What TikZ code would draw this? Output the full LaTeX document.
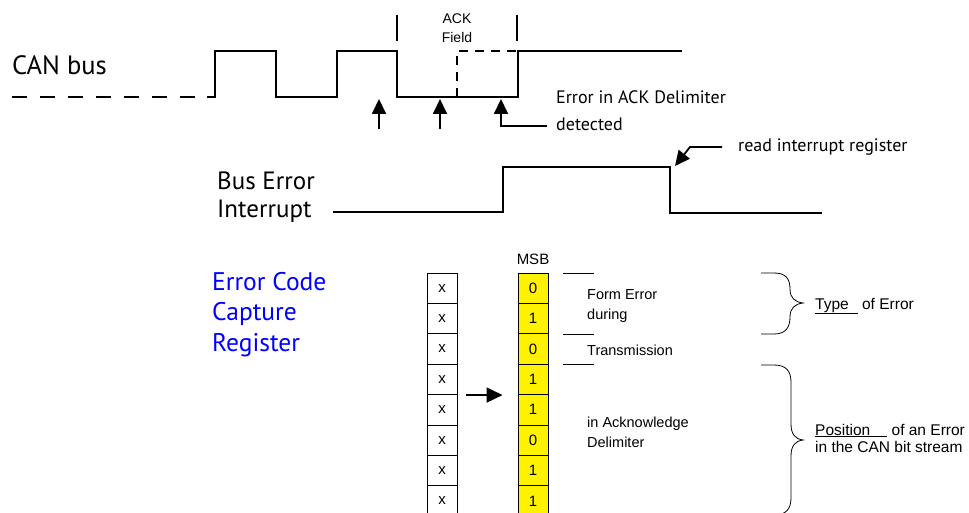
\documentclass[tikz,border=0pt]{standalone}
\usepackage{fontspec}
\setmainfont{Liberation Sans}
\newfontfamily\humfont{PT Sans}
\usepackage{xcolor}
\usetikzlibrary{arrows.meta}

\tikzset{
  sig/.style={line width=1.8pt},
  tickmark/.style={line width=1.8pt},
  tiparrow/.style={-{Triangle[length=15pt,width=14pt]}, line width=1.8pt},
  humbig/.style={font=\humfont\fontsize{25}{28}\selectfont, inner sep=0pt},
  humsmall/.style={font=\humfont\fontsize{18}{27}\selectfont, inner sep=0pt},
  plaintext/.style={font=\fontsize{14.5}{20}\selectfont, inner sep=0pt},
  bracetext/.style={font=\fontsize{15.5}{17}\selectfont, inner sep=0pt},
  bitcell/.style={draw, line width=0.9pt, minimum width=30pt, minimum height=30.4pt,
    inner sep=0pt, font=\fontsize{15}{18}\selectfont},
  bracepath/.style={line width=0.8pt},
}

\begin{document}
\begin{tikzpicture}[x=1pt,y=-1pt]
  \useasboundingbox (0,0) rectangle (969,513);

  % CAN bus signal
  \node[humbig, font=\humfont\fontsize{26.5}{28}\selectfont, anchor=base west] (canbus) at (12,75) {CAN bus};
  \draw[sig, dash pattern=on 15pt off 13pt] (12,97) -- (210,97);
  \draw[sig] (207,97) -- (215,97) -- (215,51) -- (276,51) -- (276,97) -- (337,97) -- (337,51)
    -- (397,51) -- (397,97) -- (518,97) -- (518,51) -- (682,51);

  % ACK field
  \draw[tickmark] (397,15) -- (397,41);
  \draw[tickmark] (517,15) -- (517,41);
  \node[font=\fontsize{14}{19}\selectfont, inner sep=0pt, align=center] (ackfield) at (457,28) {ACK\\Field};
  \draw[line width=1.5pt, dash pattern=on 9pt off 7pt] (457,97) -- (457,51) -- (518,51);

  % sample points
  \coordinate (smp1) at (379,129);
  \coordinate (smp2) at (440,129);
  \coordinate (smp1tip) at (379,99);
  \coordinate (smp2tip) at (440,99);
  \draw[tiparrow] (smp1) -- (smp1tip);
  \draw[tiparrow] (smp2) -- (smp2tip);

  \node[humsmall, anchor=base west, align=left] (ackerr) at (556,131) {Error in ACK Delimiter\\detected};
  \coordinate (errtail) at (547,126);
  \coordinate (errbend) at (501,126);
  \coordinate (errtip) at (501,99);
  \draw[tiparrow] (errtail) -- (errbend) -- (errtip);

  % Bus error interrupt
  \node[humbig, anchor=base west, align=left] (buserr) at (217,218) {Bus Error\\Interrupt};
  \draw[sig] (333,212) -- (503,212) -- (503,167) -- (670,167) -- (670,213) -- (822,213);

  \node[humsmall, anchor=base west] (readirq) at (738,152) {read interrupt register};
  \coordinate (irqtail) at (722,147);
  \coordinate (irqbend) at (690,147);
  \coordinate (irqtip) at (675,166);
  \draw[tiparrow] (irqtail) -- (irqbend) -- (irqtip);

  % Error code capture register
  \node[font=\humfont\fontsize{25.5}{30.5}\selectfont, inner sep=0pt, text=blue, anchor=base west, align=left]
    (eccreg) at (212,351) {Error Code\\Capture\\Register};

  \foreach \i/\val in {0/0, 1/1, 2/0, 3/1, 4/1, 5/0, 6/1, 7/1} {
    \node[bitcell] (xc\i) at (442,{288.2+30.4*\i}) {x};
    \node[bitcell, fill=yellow] (bc\i) at (533,{288.2+30.4*\i}) {\val};
  }
  \node[font=\fontsize{15}{18}\selectfont, inner sep=0pt, anchor=base] (msb) at (533,265) {MSB};

  \draw[-{Triangle[length=16pt,width=15pt]}, line width=1.8pt, shorten <=9pt, shorten >=15pt]
    (xc3.south east) -- (bc3.south west);

  % field separators
  \draw[line width=0.8pt] (563,273) -- (594,273);
  \draw[line width=0.8pt] (563,334) -- (594,334);
  \draw[line width=0.8pt] (563,364) -- (594,364);

  \node[plaintext, anchor=base west, align=left] (formerr) at (587,319) {Form Error\\during};
  \node[plaintext, anchor=base west] (transm) at (587,355) {Transmission};
  \node[plaintext, anchor=base west, align=left] (ackdelim) at (587,447) {in Acknowledge\\Delimiter};

  % braces
  \draw[bracepath] (761,273) -- (774,273) .. controls (786,273) and (790,279) .. (790,289)
    .. controls (790,298) and (795,302) .. (803,303) .. controls (795,304) and (790,308) .. (790,317)
    .. controls (790,327) and (786,334) .. (774,334) -- (761,334);
  \draw[bracepath] (761,365) -- (774,365) .. controls (786,365) and (791,371) .. (791,382)
    -- (791,424) .. controls (791,434) and (795,439) .. (803,440) .. controls (795,441) and (791,446) .. (791,456)
    -- (791,498) .. controls (791,509) and (786,515) .. (774,515);

  \node[bracetext, anchor=base west] (errtype) at (815,309) {\underline{Type\hspace{9pt}} of Error};
  \node[bracetext, anchor=base west, align=left] (errpos) at (815,452)
    {\underline{Position\hspace{17pt}} of an Error\\in the CAN bit stream};
\end{tikzpicture}
\end{document}
